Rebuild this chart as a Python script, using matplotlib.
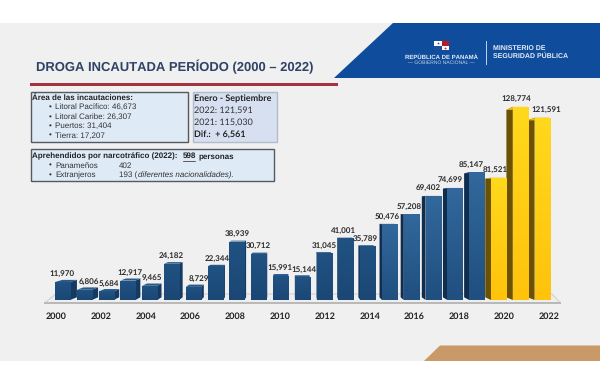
import matplotlib
matplotlib.use('Agg')
import matplotlib.pyplot as plt
import numpy as np
from matplotlib.colors import LinearSegmentedColormap
from matplotlib.patches import Polygon, Rectangle

plt.rcParams['text.hinting'] = 'no_hinting'
plt.rcParams['text.hinting_factor'] = 1

years = list(range(2000, 2023))
values = [11970, 6806, 5684, 12917, 9465, 24182, 8729, 22344, 38939, 30712, 15991, 15144,
          31045, 41001, 35789, 50476, 57208, 69402, 74699, 85147, 81521, 128774, 121591]
highlight_years = [2020, 2021, 2022]
tick_years = list(range(2000, 2023, 2))

area_title = 'Área de las incautaciones:'
area_items = ['Litoral Pacífico: 46,673', 'Litoral Caribe: 26,307', 'Puertos: 31,404', 'Tierra: 17,207']
period_lines = ['2022: 121,591', '2021: 115,030']

# label nudges in pixels
label_dx = [0, 5, 3, 2, 2, 0, 6, 2, 0, 0, 0, 2, 0, -2, -2, -2, -2, -5, -5, -5, -3, -4, 4]

W, H = 600, 384
ARIAL = 'Liberation Sans'
CALIBRI = 'Lato'

fig = plt.figure(figsize=(W / 100, H / 100), dpi=100, facecolor='white')

# page furniture, in pixel coordinates
bg = fig.add_axes([0, 0, 1, 1])
bg.set_xlim(0, W)
bg.set_ylim(H, 0)
bg.axis('off')


def poly(points, color, z=1):
    bg.add_patch(Polygon(points, closed=True, facecolor=color, edgecolor='none', zorder=z))


def box(x0, y0, x1, y1, face, edge, lw=1.0):
    bg.add_patch(Rectangle((x0, y0), x1 - x0, y1 - y0, facecolor=face, edgecolor=edge, linewidth=lw, zorder=2))


def txt(x, y, s, size=5.6, weight='normal', color='#333333', family=ARIAL, ha='left', style='normal'):
    bg.text(x, y, s, fontsize=size, fontweight=weight, color=color, family=family, ha=ha, va='center',
            fontstyle=style, zorder=5)


poly([(0, 23), (W, 23), (W, 361), (0, 361)], '#f0f0f0', 0)
poly([(393, 23), (W, 23), (W, 78), (334, 78)], '#0f4c9b')
poly([(424, 361), (440, 345.5), (W, 345.5), (W, 361)], '#c99a68')
bg.add_patch(Rectangle((30, 83), 308, 3, facecolor='#a5333f', edgecolor='none', zorder=2))
txt(36, 67, 'DROGA INCAUTADA PERÍODO (2000 – 2022)', size=9.3, weight='bold', color='#2e4365')

# logo block
poly([(434, 41), (441.5, 41), (441.5, 45.5), (434, 45.5)], 'white', 3)
poly([(441.5, 41), (449, 41), (449, 45.5), (441.5, 45.5)], '#b51d2c', 3)
poly([(434, 45.5), (441.5, 45.5), (441.5, 50), (434, 50)], '#1f4f9c', 3)
poly([(441.5, 45.5), (449, 45.5), (449, 50), (441.5, 50)], 'white', 3)
bg.plot([437.7], [43.2], marker='*', ms=2.2, color='#1f4f9c', mew=0, zorder=4)
bg.plot([445.2], [47.8], marker='*', ms=2.2, color='#b51d2c', mew=0, zorder=4)
txt(441, 57, 'REPÚBLICA DE PANAMÁ', size=4.4, weight='bold', color='#e6ecf6', ha='center')
txt(441, 63, '— GOBIERNO NACIONAL —', size=3.5, color='#c5d2e8', ha='center')
bg.plot([486, 486], [41, 64], color='#c5d2e8', lw=0.7, zorder=3)
txt(493, 48, 'MINISTERIO DE', size=4.8, weight='bold', color='#e6ecf6')
txt(493, 56.5, 'SEGURIDAD PÚBLICA', size=4.8, weight='bold', color='#e6ecf6')

# text boxes
box(30.5, 91.5, 188, 142, '#deeaf6', '#555a60')
txt(32.5, 97.5, area_title, weight='bold', color='#222222')
for y, item in zip([107, 117, 126, 135.5], area_items):
    txt(49, y, '•', color='#333333')
    txt(55, y, item)

box(192.5, 91.5, 276.5, 141.5, '#d6e0f1', '#b3bccb')
txt(194, 99, 'Enero - Septiembre', size=6.7, weight='bold', color='#222222', family=CALIBRI)
txt(194, 110.5, period_lines[0], size=6.3, family=CALIBRI)
txt(194, 122.5, period_lines[1], size=6.3, family=CALIBRI)
txt(194, 134.5, 'Dif.:  + 6,561', size=6.5, weight='bold', color='#222222', family=CALIBRI)

box(30.5, 149, 274, 181, '#deeaf6', '#555a60')
txt(32.5, 156, 'Aprehendidos por narcotráfico (2022):', weight='bold', color='#222222')
txt(183, 156, '598', weight='bold', color='#222222')
txt(198, 156, 'personas', weight='bold', color='#222222')
bg.plot([183, 195], [161, 161], color='#222222', lw=0.5, zorder=5)
txt(49, 165.5, '•')
txt(55, 165.5, 'Panameños')
txt(119, 165.5, '402')
txt(49, 175, '•')
txt(55, 175, 'Extranjeros')
txt(119, 175, '193 (')
txt(137.5, 175, 'diferentes nacionalidades).', size=5.5, style='italic')

# floor of the 3D chart
poly([(45, 302.5), (56, 294), (552, 294), (560, 302.5)], '#eeeeee', 1)
bg.plot([45, 56, 552, 560], [302.5, 294, 294, 302.5], color='#d2d2d2', lw=0.8, zorder=1)
bg.plot([45, 560], [302.7, 302.7], color='#b8b8b8', lw=1.4, zorder=1)

# chart, in data coordinates
PX_PER_YEAR = 21.8
PX_PER_VALUE = 0.0015
AX_L, AX_R, AX_BASE, AX_TOP = 30, 590, 300, 90
ax = fig.add_axes([AX_L / W, 1 - AX_BASE / H, (AX_R - AX_L) / W, (AX_BASE - AX_TOP) / H])
ax.patch.set_alpha(0)
xlim = (2000 - (62.5 - AX_L) / PX_PER_YEAR, 2000 + (AX_R - 62.5) / PX_PER_YEAR)
ylim = (0, (AX_BASE - AX_TOP) / PX_PER_VALUE)
for s in ax.spines.values():
    s.set_visible(False)
ax.set_yticks([])

BAR_W = 0.69
VP_X, VP_Y = 2010.9, 60000
DEPTH = 0.03

blue_old = LinearSegmentedColormap.from_list('blue_old', ['#1b4775', '#205282'])
blue_new = LinearSegmentedColormap.from_list('blue_new', ['#204f80', '#32689c'])
yellow = LinearSegmentedColormap.from_list('yellow', ['#ffc30c', '#ffd81c'])
ramp = np.linspace(0, 1, 32).reshape(-1, 1)


def back(x, y):
    return x + (VP_X - x) * DEPTH, y + (VP_Y - y) * DEPTH


for year, v, dx in zip(years, values, label_dx):
    hi = year in highlight_years
    side = '#6b5100' if hi else ('#102d4e' if year >= 2015 else '#143a62')
    top_c = '#e8b90f' if hi else '#2a5a8a'
    cmap = yellow if hi else (blue_new if year >= 2015 else blue_old)
    x0, x1 = year - BAR_W / 2, year + BAR_W / 2
    edge = x1 if year < VP_X else x0
    bx, by0 = back(edge, 0)
    _, by1 = back(edge, v)
    ax.add_patch(Polygon([(edge, 0), (bx, by0), (bx, by1), (edge, v)], facecolor=side, edgecolor='none', zorder=3))
    ax.add_patch(Polygon([(x0, v), (x1, v), back(x1, v), back(x0, v)], facecolor=top_c, edgecolor='none', zorder=3))
    bar = ax.bar(year, v, width=BAR_W, color=cmap(0.5), linewidth=0, zorder=4)[0]
    # vertical shading over the bar, lighter toward its top
    im = ax.imshow(ramp, cmap=cmap, origin='lower', aspect='auto', extent=(x0, x1, 0, v), zorder=4.5,
                   interpolation='bilinear')
    im.set_clip_path(bar)
    ax.annotate(f'{v:,}', (year, v), xytext=(dx, 8), textcoords='offset pixels', ha='center', va='center',
                fontsize=5.8, fontweight='bold', color='#2b2b2b', family=CALIBRI, zorder=6)

ax.set_xlim(xlim)
ax.set_ylim(ylim)
tick_pos = [2000 - 6.5 / PX_PER_YEAR + (y - 2000) * 22.4 / PX_PER_YEAR for y in tick_years]
ax.set_xticks(tick_pos, [str(y) for y in tick_years])
ax.tick_params(axis='x', length=0, pad=8.5)
for lab in ax.get_xticklabels():
    lab.set_fontsize(6.4)
    lab.set_fontweight('bold')
    lab.set_family(CALIBRI)
    lab.set_color('#222222')

fig.savefig('out.png', dpi=100)
